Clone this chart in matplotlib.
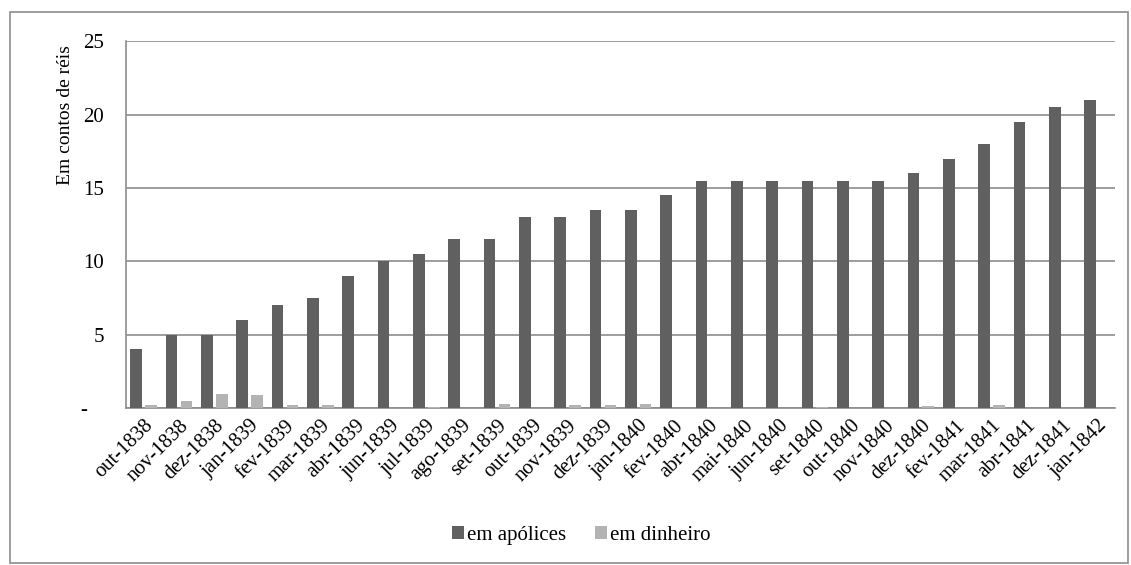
import matplotlib.pyplot as plt
import numpy as np
from matplotlib.patches import Rectangle

meses = ["out-1838", "nov-1838", "dez-1838", "jan-1839", "fev-1839", "mar-1839",
         "abr-1839", "jun-1839", "jul-1839", "ago-1839", "set-1839", "out-1839",
         "nov-1839", "dez-1839", "jan-1840", "fev-1840", "abr-1840", "mai-1840",
         "jun-1840", "set-1840", "out-1840", "nov-1840", "dez-1840", "fev-1841",
         "mar-1841", "abr-1841", "dez-1841", "jan-1842"]
apolices = [4, 5, 5, 6, 7, 7.5, 9, 10, 10.5, 11.5, 11.5, 13, 13, 13.5, 13.5, 14.5,
            15.5, 15.5, 15.5, 15.5, 15.5, 15.5, 16, 17, 18, 19.5, 20.5, 21]
dinheiro = [0.2, 0.5, 0.95, 0.9, 0.2, 0.18, 0, 0, 0.05, 0, 0.3, 0, 0.2, 0.22,
            0.28, 0, 0, 0, 0, 0.03, 0, 0, 0.12, 0, 0.18, 0.02, 0, 0]
yticks = [0, 5, 10, 15, 20, 25]
ylabels = ["-   ", "5", "10", "15", "20", "25"]

plt.rcParams["font.family"] = ["Liberation Serif", "DejaVu Serif"]

fig = plt.figure(figsize=(11.31, 5.65), dpi=100)
ax = fig.add_axes([0.1114, 0.278, 0.8746, 0.649])

x = np.arange(len(meses))
w = 0.33
ax.bar(x - 0.21, apolices, w, color="#606060", label="em apólices", zorder=3)
ax.bar(x + 0.21, dinheiro, w, color="#b3b3b3", label="em dinheiro", zorder=3)

ax.set_xlim(-0.5, len(meses) - 0.5)
ax.set_ylim(0, 25)
ax.set_yticks(yticks)
ax.set_yticklabels(ylabels, fontsize=15)
ax.yaxis.grid(True, color="#8c8c8c", linewidth=1.2, zorder=0)
ax.set_xticks(x)
ax.set_xticklabels(meses, rotation=45, ha="right", rotation_mode="anchor", fontsize=14.8)
ax.tick_params(axis="y", length=0, pad=16)
ax.tick_params(axis="x", length=0, pad=6)
for s in ["top", "right"]:
    ax.spines[s].set_visible(False)
for s in ["left", "bottom"]:
    ax.spines[s].set_color("#8c8c8c")
    ax.spines[s].set_linewidth(1.2)
ax.set_ylabel("Em contos de réis", fontsize=14)
ax.yaxis.set_label_coords(-0.053, 0.80)

fig.legend(loc="center", bbox_to_anchor=(0.514, 0.052), ncol=2, frameon=False,
           fontsize=15, handlelength=0.55, handleheight=0.55, handletextpad=0.15,
           columnspacing=1.4)

fig.patches.append(Rectangle((0.009, 0.004), 0.988, 0.975, transform=fig.transFigure,
                             fill=False, edgecolor="#8c8c8c", linewidth=1.2))

fig.savefig("out.png", dpi=100)
